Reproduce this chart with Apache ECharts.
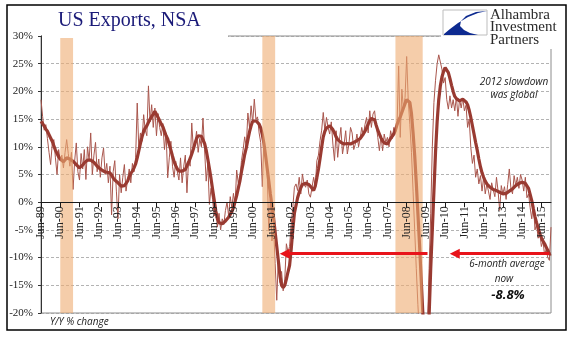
<!DOCTYPE html>
<html><head><meta charset="utf-8">
<script src="https://cdn.jsdelivr.net/npm/echarts@6/dist/echarts.min.js"></script>
<style>html,body{margin:0;padding:0;background:#fff}#c{width:577px;height:341px}</style>
</head><body><div id="c"></div>
<script>
// Month labels (first point Jun-89)
const MONTH_NAMES = ['Jan','Feb','Mar','Apr','May','Jun','Jul','Aug','Sep','Oct','Nov','Dec'];
const START_YEAR = 1989, START_MONTH = 5;

// 6-month average, Y/Y % (thick line), one row per 12 months from Jun-89
const avg6 = [
 14.6,14.2,13.7,13.2,12.8,12.2,11.6,11.0,10.2,9.4,8.8,8.2,
 7.8,7.6,7.3,7.6,8.0,8.1,7.8,7.7,7.4,7.1,6.8,6.5,
 6.2,6.3,6.7,7.1,7.4,7.6,7.8,7.6,7.4,7.2,6.9,6.5,
 6.2,6.0,5.8,5.6,5.6,5.4,5.2,5.3,4.9,4.4,4.0,3.7,
 3.5,3.2,2.9,2.7,3.0,3.2,3.8,4.6,5.2,5.6,6.2,6.9,
 8.0,9.3,10.6,11.8,12.8,13.4,13.8,14.4,15.0,15.3,15.9,16.4,
 16.2,15.3,14.7,14.1,13.6,12.8,12.0,11.4,10.4,9.4,8.3,7.3,
 6.6,6.0,5.6,5.7,5.6,5.8,5.9,6.6,7.2,7.9,8.7,9.6,
 10.6,11.5,12.0,12.1,11.9,11.6,10.6,9.4,7.8,6.1,4.3,2.3,
 0.4,-1.6,-3.0,-3.7,-4.0,-3.9,-3.7,-3.4,-3.1,-2.7,-2.2,-1.7,
 -1.0,0.1,1.2,2.5,3.8,5.5,7.0,8.6,9.8,11.3,12.7,13.8,
 14.6,14.8,14.7,14.5,14.1,13.4,12.2,10.6,8.5,6.2,3.9,1.5,
 -0.6,-2.8,-5.4,-8.0,-10.6,-13.3,-15.0,-15.4,-15.0,-13.9,-12.6,-11.4,
 -8.5,-5.0,-2.0,-0.6,0.8,1.8,2.6,3.2,3.3,3.4,3.3,3.2,
 3.0,2.5,2.1,2.9,4.4,6.0,7.9,9.9,11.8,12.8,13.4,13.7,
 13.8,13.5,13.1,12.5,11.8,11.3,11.0,10.8,10.8,10.5,10.4,10.6,
 10.5,10.5,10.6,10.8,11.0,11.1,11.2,11.5,11.9,12.3,12.8,13.4,
 14.1,14.7,15.1,15.3,14.9,13.9,13.0,12.3,11.6,11.1,10.7,10.5,
 10.5,10.8,11.5,11.9,12.3,13.0,14.0,14.8,15.4,16.2,17.0,17.8,
 18.5,18.6,18.0,16.0,12.5,8.5,3.5,-2.0,-7.5,-13.5,-19.5,-24.5,
 -27.0,-26.0,-20.5,-12.0,-5.0,2.0,9.0,14.5,18.5,21.0,22.6,23.6,
 24.3,24.1,23.4,22.3,21.1,20.0,19.1,18.7,18.4,18.3,18.4,18.6,
 18.5,18.1,17.6,16.6,15.3,13.8,12.3,10.8,9.4,7.8,6.4,5.3,
 4.5,3.8,3.3,3.0,2.7,2.5,2.3,2.2,2.1,2.0,1.8,1.6,
 1.5,1.5,1.6,1.8,2.0,2.1,2.4,2.7,3.0,3.1,3.4,3.6,
 3.6,3.5,3.4,3.2,2.5,1.4,0.3,-1.2,-2.6,-3.7,-4.6,-5.7,
 -6.4,-7.0,-7.5,-8.1,-8.7,-9.4,-9.3
];

// Monthly Y/Y % change (thin line)
const monthly = [
 18.5,15.5,13.0,14.0,11.5,9.0,6.8,10.5,11.3,8.0,5.0,9.5,
 7.5,8.5,6.2,9.0,11.3,8.8,6.5,9.0,2.3,7.5,10.7,5.5,
 4.0,8.8,6.0,9.5,4.1,10.0,7.5,12.5,5.0,8.5,10.8,5.5,
 7.8,4.5,8.0,9.8,5.0,7.0,3.5,6.5,-2.3,5.5,7.5,2.0,
 -3.0,5.0,1.7,4.5,6.8,2.0,4.0,6.0,3.5,7.0,5.5,8.0,
 17.9,9.5,12.5,11.0,15.8,13.0,12.0,21.0,14.5,17.6,13.5,17.0,
 12.0,16.0,13.5,12.0,14.2,9.5,12.5,4.4,8.0,11.0,6.5,4.5,
 7.4,5.5,4.0,8.0,3.5,6.5,8.5,1.7,7.5,6.5,14.3,9.5,
 10.5,12.8,9.0,11.5,10.0,15.2,9.5,3.8,7.0,-0.4,2.5,0.5,
 -2.5,-1.0,-4.5,-2.0,-5.0,-3.0,-4.0,-1.5,0.0,-2.5,1.0,-1.0,
 1.6,-0.5,5.8,3.5,4.0,7.5,9.4,11.8,10.0,16.1,13.5,17.4,
 14.3,18.6,15.0,15.4,12.5,10.8,2.8,11.1,8.0,6.0,-5.1,0.5,
 -7.0,-4.5,-11.1,-17.7,-10.0,-14.5,-12.5,-16.0,-14.0,-7.5,-9.0,-8.0,
 -3.9,-1.0,2.7,3.3,2.1,4.5,1.5,5.1,3.3,2.7,4.0,1.5,
 0.9,0.9,4.5,2.7,7.5,8.5,11.1,13.0,16.2,12.9,15.3,13.5,
 12.3,14.5,10.5,7.5,12.9,8.1,11.1,13.5,8.7,10.5,12.9,8.7,
 10.5,13.5,12.5,9.5,10.5,12.3,10.0,11.5,13.5,12.0,14.0,15.3,
 12.5,16.5,13.5,15.9,16.5,13.8,11.7,9.3,12.0,9.3,12.3,10.8,
 11.7,10.0,12.9,11.5,13.5,12.5,13.9,24.6,11.7,20.4,16.8,18.9,
 26.3,18.3,14.0,9.0,2.0,-5.0,-12.0,-18.5,-24.0,-28.0,-30.0,-29.0,
 -27.0,-22.0,-12.0,-2.0,10.0,18.0,22.0,25.0,26.6,26.5,24.0,21.5,
 22.5,18.5,16.8,19.2,17.0,18.5,16.5,19.0,15.5,18.6,17.0,18.8,
 16.5,17.5,13.5,15.0,9.9,7.0,8.5,4.5,6.0,3.3,4.8,2.0,
 4.5,1.5,3.3,2.0,0.5,3.5,2.2,1.0,4.5,2.0,-1.5,3.0,
 1.5,2.8,0.5,3.2,6.0,2.5,1.5,4.8,3.0,4.5,2.5,5.0,
 4.0,2.0,4.5,0.8,1.5,-1.0,-3.0,0.0,-5.0,-4.0,-6.5,-5.5,
 -8.0,-7.0,-9.5,-8.5,-10.0,-10.5,-4.5
];

// Recession shading (start, end month)
const recessions = [['Jun-90','Feb-91'],['Dec-00','Aug-01'],['Nov-07','Apr-09']];
// Arrows at the current 6-month average level: [head, tail]
const arrowLevel = -9.3;
const arrows = [['Feb-02','Jul-09'],['Dec-10','Nov-15']];
// Y axis
const Y_MIN = -20, Y_MAX = 30, Y_STEP = 5;

const categories = [];
for (let i = 0; i < avg6.length; i++) {
  const m = START_MONTH + i;
  const y = START_YEAR + Math.floor(m / 12);
  categories.push(MONTH_NAMES[m % 12] + '-' + String(y % 100).padStart(2, '0'));
}
const recIdx = recessions.map(r => [categories.indexOf(r[0]), categories.indexOf(r[1])]);

const GRID = {left: 41, right: 26, top: 36, bottom: 28};
const plotH = 341 - GRID.top - GRID.bottom;
const zeroOffset = -plotH * (0 - Y_MIN) / (Y_MAX - Y_MIN); // move the category axis up to the 0% line

const chart = echarts.init(document.getElementById('c'), null, {renderer: 'canvas'});
const serif = '"Liberation Serif", "Times New Roman", serif';
const sans = '"Open Sans", "Liberation Sans", sans-serif';

function txt(text, x, y, font, fill, align) {
  return {type: 'text', z: 102, style: {text: text, x: x, y: y, font: font, fill: fill,
    textAlign: align || 'left', align: align || 'left', textVerticalAlign: 'middle', verticalAlign: 'middle'}};
}

chart.setOption({
  animation: false,
  backgroundColor: '#ffffff',
  grid: Object.assign({show: true, borderColor: '#8c8c8c', borderWidth: 1}, GRID),
  xAxis: {
    type: 'category', data: categories, boundaryGap: false, position: 'bottom', offset: zeroOffset, z: 6,
    axisLine: {onZero: false, lineStyle: {color: '#1a1a1a', width: 1}},
    axisTick: {show: true, interval: 11, length: 5, lineStyle: {color: '#1a1a1a'}},
    axisLabel: {interval: 11, rotate: 90, margin: 4, fontFamily: serif, fontSize: 12, color: '#222'},
    splitLine: {show: false}
  },
  yAxis: {
    type: 'value', min: Y_MIN, max: Y_MAX, interval: Y_STEP,
    axisLine: {show: true, lineStyle: {color: '#333'}},
    axisTick: {show: true, length: 3, lineStyle: {color: '#333'}},
    axisLabel: {formatter: '{value}%', margin: 8, fontFamily: serif, fontSize: 11, color: '#222'},
    splitLine: {show: true, lineStyle: {color: '#a0a0a0', type: [3, 2], width: 0.8}}
  },
  series: [
    {
      type: 'line', name: 'Y/Y', data: monthly, z: 2, showSymbol: false, clip: true,
      lineStyle: {color: '#a9564d', width: 1}, silent: true
    },
    {
      type: 'line', name: '6-month average', data: avg6, z: 3, showSymbol: false, clip: true,
      lineStyle: {color: '#993a31', width: 3.2}, silent: true,
      markLine: {
        silent: true, z: 7, symbol: ['triangle', 'none'], symbolSize: [10, 10],
        label: {show: false},
        lineStyle: {color: '#e8141b', width: 3, type: 'solid'},
        data: arrows.map(a => [{coord: [a[0], arrowLevel]}, {coord: [a[1], arrowLevel]}])
      }
    },
    {
      type: 'custom', z: 4, silent: true, clip: true,
      data: recIdx,
      renderItem: function (params, api) {
        const p0 = api.coord([api.value(0), Y_MAX]);
        const p1 = api.coord([api.value(1), Y_MIN]);
        return {type: 'rect', shape: {x: p0[0], y: p0[1], width: p1[0] - p0[0], height: p1[1] - p0[1]},
                style: {fill: 'rgba(238,172,113,0.6)'}};
      }
    }
  ],
  graphic: [
    {type: 'rect', z: 100, shape: {x: 42, y: 32, width: 186, height: 6}, style: {fill: '#fff'}},
    {type: 'rect', z: 100, shape: {x: 441, y: 6, width: 123, height: 43}, style: {fill: '#fff'}},
    {type: 'rect', z: 101, shape: {x: 443, y: 10, width: 44, height: 25}, style: {fill: '#fff', stroke: '#bdbdbd', lineWidth: 1}},
    {type: 'polygon', z: 102, shape: {points: [[487,11],[478,13],[468,17],[458,23],[450,29],[444,34],[444,35],[478,35],[470,33],[464,30],[460,26],[461,21],[466,16],[476,12]]}, style: {fill: '#0d2a90'}},
    txt('Alhambra', 490, 15, '15px ' + serif, '#2a2a2a'),
    txt('Investment', 490, 27.5, '15px ' + serif, '#2a2a2a'),
    txt('Partners', 490, 40, '15px ' + serif, '#2a2a2a'),
    txt('US Exports, NSA', 58, 21, '20px ' + serif, '#1a1a78'),
    txt('2012 slowdown', 514, 82, 'italic 10px ' + sans, '#222', 'center'),
    txt('was global', 514, 95, 'italic 10px ' + sans, '#222', 'center'),
    txt('6-month average', 507, 264, 'italic 10px ' + sans, '#222', 'center'),
    txt('now', 504, 279, 'italic 10px ' + sans, '#222', 'center'),
    txt('-8.8%', 508, 295, 'italic bold 13px ' + sans, '#111', 'center'),
    txt('Y/Y % change', 50, 322.5, 'italic 10px ' + sans, '#222'),
    {type: 'rect', z: 200, shape: {x: 7, y: 5, width: 559, height: 325}, style: {fill: 'none', stroke: '#000', lineWidth: 1.5}}
  ]
});
</script></body></html>
